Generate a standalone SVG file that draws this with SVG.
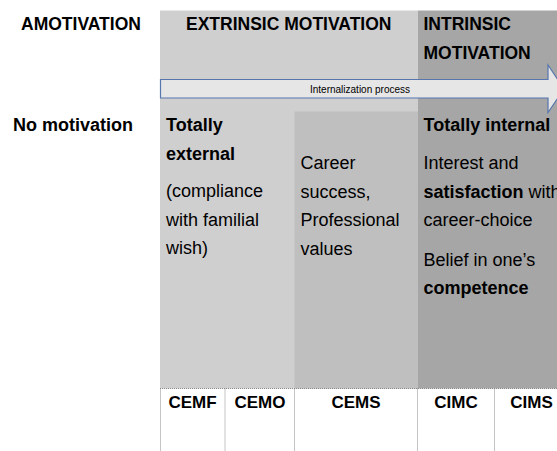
<svg xmlns="http://www.w3.org/2000/svg" width="557" height="451" viewBox="0 0 557 451">
  <style>
    text { font-family: "Liberation Sans", Arial, sans-serif; fill: #000; }
    .hd { font-size: 17.5px; font-weight: bold; }
    .bd { font-size: 18px; }
    .b { font-weight: bold; }
    .code { font-size: 17px; font-weight: bold; text-anchor: middle; }
    .grid { stroke: #8a8a8a; stroke-width: 1; stroke-dasharray: 1 1; fill: none; }
  </style>
  <rect width="557" height="451" fill="#fff"/>

  <!-- column backgrounds -->
  <g id="bands">
    <rect x="160" y="10.5" width="258" height="378" fill="#d0cfd0"/>
    <rect x="294.5" y="111.5" width="123.5" height="277" fill="#bfbfbf"/>
    <rect x="418" y="10.5" width="139" height="378" fill="#a6a6a6"/>
  </g>

  <!-- code table grid -->
  <g id="code-grid" class="grid">
    <line x1="160" y1="388.5" x2="557" y2="388.5"/>
    <line x1="160.5" y1="388.5" x2="160.5" y2="451"/>
    <line x1="225" y1="388.5" x2="225" y2="451"/>
    <line x1="294.5" y1="388.5" x2="294.5" y2="451"/>
    <line x1="417.5" y1="388.5" x2="417.5" y2="451"/>
    <line x1="494.5" y1="388.5" x2="494.5" y2="451"/>
  </g>

  <g id="amotivation">
    <text class="hd" x="21" y="30">AMOTIVATION</text>
    <text class="bd b" x="13" y="131">No motivation</text>
  </g>

  <g id="extrinsic">
    <text class="hd" x="186" y="30">EXTRINSIC MOTIVATION</text>
  </g>

  <g id="intrinsic">
    <text class="hd" x="423.5" y="30">INTRINSIC</text>
    <text class="hd" x="423.5" y="58.5">MOTIVATION</text>
  </g>

  <g id="connectors">
    <path d="M160.5,79.5 H548 V65 L564,89 L548,112.5 V98 H160.5 Z" fill="#e6e6e6" stroke="#5676ae" stroke-width="1.2"/>
    <text x="360" y="93" font-size="10" text-anchor="middle">Internalization process</text>
  </g>

  <g id="totally-external">
    <text class="bd b" x="166" y="131">Totally</text>
    <text class="bd b" x="166" y="159.5">external</text>
    <text class="bd" x="166" y="197">(compliance</text>
    <text class="bd" x="166" y="226">with familial</text>
    <text class="bd" x="166" y="254">wish)</text>
  </g>

  <g id="career-success">
    <text class="bd" x="300.5" y="169">Career</text>
    <text class="bd" x="300.5" y="197.5">success,</text>
    <text class="bd" x="300.5" y="226">Professional</text>
    <text class="bd" x="300.5" y="254.5">values</text>
  </g>

  <g id="totally-internal">
    <text class="bd b" x="423.5" y="131">Totally internal</text>
    <text class="bd" x="423.5" y="169">Interest and</text>
    <text class="bd" x="423.5" y="197.5"><tspan class="b">satisfaction</tspan> with</text>
    <text class="bd" x="423.5" y="226">career-choice</text>
    <text class="bd" x="423.5" y="265.5">Belief in one’s</text>
    <text class="bd b" x="423.5" y="293.5">competence</text>
  </g>

  <g id="codes">
    <text class="code" x="192.5" y="408">CEMF</text>
    <text class="code" x="260" y="408">CEMO</text>
    <text class="code" x="356" y="408">CEMS</text>
    <text class="code" x="456" y="408">CIMC</text>
    <text class="code" x="531.5" y="408">CIMS</text>
  </g>
</svg>
